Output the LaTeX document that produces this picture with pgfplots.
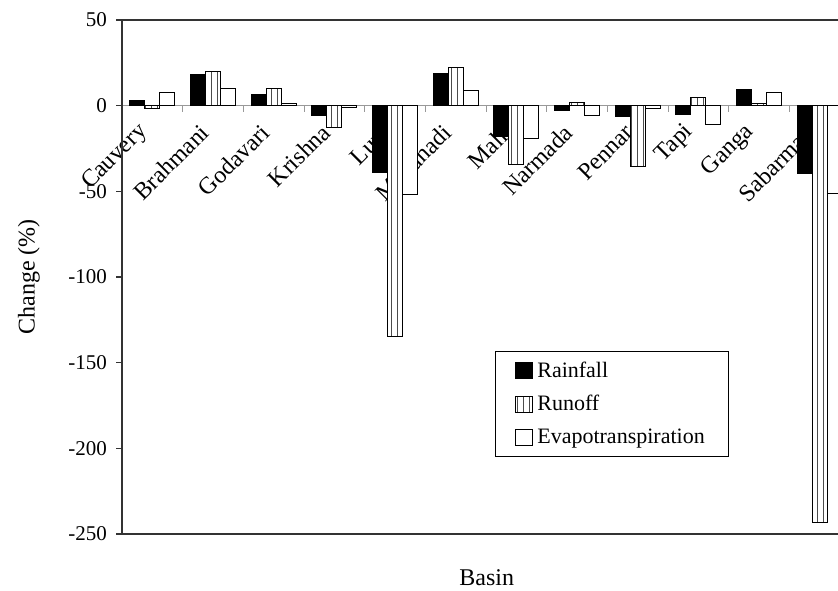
\documentclass[border=0pt]{standalone}
\usepackage{fontspec}
\setmainfont{Liberation Serif}
\usepackage{pgfplots}
\usepackage{pgfplotstable}
\pgfplotsset{compat=1.18}
\usetikzlibrary{patterns}
\pgfplotstableread{
idx R Ru ET
0 3 -1.5 7.5
1 18 20 10
2 6.5 10 1.5
3 -5.5 -13 -1
4 -39 -135 -52
5 18.5 22 9
6 -18 -34.5 -19
7 -3 2 -6
8 -6.5 -35.5 -1.5
9 -5 4.5 -11
10 9.5 1.5 7.5
11 -39.5 -243 -51.5
}\datatable
\begin{document}
\begin{tikzpicture}
\useasboundingbox (0,0) rectangle (419pt,295pt);
\clip (0,0) rectangle (419pt,295pt);
\pgfplotsset{base/.style={at={(61pt,28pt)}, anchor=south west, scale only axis,
  width=364pt, height=257pt, xmin=-0.5, xmax=11.5, ymin=-250, ymax=50}}
% category axis along zero line (drawn first, so bars cover labels)
\begin{axis}[base, axis x line=middle, axis y line=none,
  axis line style={black!40, line width=0.5pt, -},
  xtick={-0.5,0.5,...,11.5}, x tick label as interval,
  xticklabels={Cauvery,Brahmani,Godavari,Krishna,Luni,Mahanadi,Mahi,Narmada,Pennar,Tapi,Ganga,Sabarmati},
  xticklabel style={rotate=45, anchor=east, font=\fontsize{12}{13}\selectfont, yshift=-3pt, xshift=-5.5pt},
  tick align=outside, major tick length=3pt,
  tick style={black!40, line width=0.5pt},
  ytick=\empty]
\end{axis}
% main axis with bars
\begin{axis}[base,
  axis line style={black!80, line width=0.8pt},
  xtick=\empty,
  ytick={-250,-200,...,50},
  yticklabels={-250,-200,-150,-100,-50,0,50},
  ytick pos=left, tick align=outside, major tick length=3pt,
  tick style={black!80, line width=0.8pt},
  yticklabel style={font=\fontsize{10.5}{12}\selectfont, xshift=-1pt},
  ylabel={Change (\%)}, xlabel={Basin},
  ylabel style={at={(axis description cs:-0.128,0.5)}, anchor=center, font=\fontsize{12}{14}\selectfont},
  xlabel style={at={(axis description cs:0.501,-0.0856)}, anchor=center, font=\fontsize{12}{14}\selectfont},
  ybar=0pt, bar width=7.5pt,
  legend image code/.code={\draw[#1] (0pt,-4pt) rectangle (8.5pt,4pt);},
  legend style={at={(0.512,0.356)}, anchor=north west, draw=black, line width=0.6pt,
    font=\fontsize{11}{13}\selectfont, row sep=3.5pt, inner xsep=10pt, inner ysep=3pt},
  legend cell align=left]
\addplot[fill=black, draw=black, line width=0.5pt] table[x=idx,y=R]{\datatable};
\addplot[fill=white, draw=black, line width=0.5pt, postaction={pattern=vertical lines, pattern color=black!70}] table[x=idx,y=Ru]{\datatable};
\addplot[fill=white, draw=black, line width=0.5pt] table[x=idx,y=ET]{\datatable};
\legend{Rainfall,Runoff,Evapotranspiration}
\end{axis}
\end{tikzpicture}
\end{document}
